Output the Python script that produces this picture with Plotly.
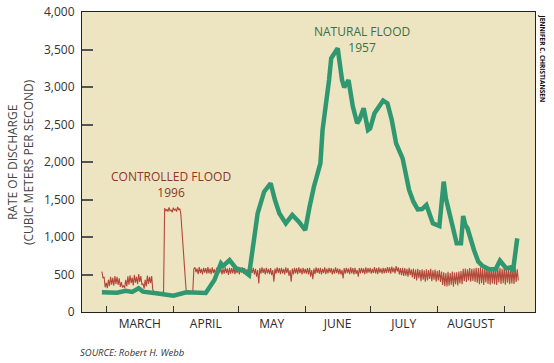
import pandas as pd
import plotly.graph_objects as go

# ---------------- data ----------------
# Natural flood 1957: days after March 1 and discharge (m^3/s)
natural_day = [-2, 5, 9, 12, 15, 17, 23, 31, 37, 46, 50, 53, 54, 57, 60, 63, 66, 68, 70, 73,
               76, 78, 80, 83, 86, 89, 92, 94, 96, 99, 100, 103, 104, 107, 109, 110, 112, 114,
               116, 117, 119, 121, 122, 124, 128, 130, 132, 134, 137, 140, 142, 144, 146, 148,
               150, 151, 154, 155, 156, 157, 159, 160, 162, 164, 165, 166, 167, 170, 172, 174,
               177, 180, 182, 184, 185, 187, 188, 190]
natural_flow = [263, 257, 284, 267, 316, 271, 249, 218, 263, 255, 427, 649, 613, 693, 582, 560,
                493, 871, 1316, 1604, 1716, 1493, 1316, 1182, 1293, 1204, 1093, 1404, 1671, 1982,
                2427, 3093, 3382, 3516, 3093, 2996, 3093, 2738, 2516, 2560, 2716, 2427, 2449,
                2649, 2818, 2782, 2560, 2249, 2049, 1627, 1471, 1369, 1373, 1427, 1271, 1182,
                1147, 1404, 1738, 1516, 1293, 1138, 916, 916, 1280, 1160, 1116, 827, 671, 613,
                569, 569, 684, 613, 582, 596, 538, 982]

# Controlled flood 1996: daily high / low discharge starting Feb 27
ctrl_start = "2001-02-27"
ctrl_high = [538, 470, 390, 430, 470, 455, 480, 470, 450, 400,
             355, 430, 475, 490, 460, 495, 470, 505, 480, 380,
             430, 485, 470, 480, 268, 262, 266, 263, 265, 1385,
             1370, 1395, 1360, 1390, 1375, 1400, 1380, 1050, 650, 268,
             266, 270, 264, 595, 580, 600, 575, 590, 585, 598,
             580, 595, 570, 590, 600, 585, 575, 595, 580, 590,
             585, 600, 575, 590, 580, 595, 585, 570, 590, 585,
             590, 575, 560, 585, 595, 580, 590, 575, 585, 560,
             580, 595, 585, 590, 575, 595, 585, 560, 580, 590,
             585, 595, 580, 590, 575, 585, 590, 560, 580, 595,
             585, 590, 575, 595, 580, 590, 585, 575, 595, 580,
             575, 560, 585, 590, 580, 595, 585, 590, 560, 585,
             590, 580, 595, 585, 590, 575, 600, 585, 595, 580,
             590, 585, 600, 595, 605, 590, 613, 595, 585, 590,
             585, 575, 590, 570, 580, 565, 575, 560, 570, 555,
             570, 560, 575, 555, 565, 550, 560, 540, 530, 520,
             535, 520, 540, 525, 530, 540, 545, 575, 580, 570,
             585, 575, 580, 590, 585, 595, 580, 590, 585, 595,
             590, 580, 595, 585, 590, 575, 595, 585, 580, 590,
             585, 595, 570]
ctrl_low = [450, 330, 318, 345, 365, 350, 375, 360, 335, 325,
            318, 340, 365, 385, 355, 390, 370, 400, 360, 312,
            340, 375, 385, 300, 260, 256, 258, 257, 260, 1345,
            1340, 1350, 1330, 1355, 1340, 1360, 1300, 850, 460, 262,
            258, 262, 575, 530, 505, 520, 500, 525, 510, 515,
            505, 520, 495, 515, 525, 500, 510, 520, 495, 510,
            515, 505, 520, 500, 525, 510, 495, 515, 505, 520,
            500, 470, 382, 510, 520, 500, 515, 505, 490, 404,
            510, 520, 505, 515, 500, 520, 480, 404, 500, 515,
            505, 520, 500, 515, 510, 500, 470, 436, 505, 520,
            510, 500, 520, 505, 515, 525, 500, 510, 520, 505,
            500, 449, 510, 520, 505, 515, 500, 510, 471, 515,
            520, 505, 515, 525, 510, 520, 515, 505, 525, 510,
            515, 520, 525, 510, 530, 515, 540, 500, 490, 480,
            485, 470, 490, 460, 440, 420, 450, 410, 430, 404,
            420, 440, 410, 430, 404, 420, 400, 360, 345, 340,
            350, 365, 338, 370, 355, 380, 372, 410, 400, 420,
            405, 415, 400, 390, 370, 385, 360, 395, 375, 365,
            380, 370, 360, 395, 375, 385, 365, 390, 370, 380,
            375, 400, 420]

months = ["MARCH", "APRIL", "MAY", "JUNE", "JULY", "AUGUST"]
y_ticks = [0, 500, 1000, 1500, 2000, 2500, 3000, 3500, 4000]

# ---------------- build ----------------
base = pd.Timestamp("2001-03-01")
natural_x = base + pd.to_timedelta(natural_day, unit="D")

c0 = pd.Timestamp(ctrl_start)
ctrl_x, ctrl_y = [], []
for i, (h, l) in enumerate(zip(ctrl_high, ctrl_low)):
    t = c0 + pd.Timedelta(days=i)
    ctrl_x += [t, t + pd.Timedelta(hours=12)]
    ctrl_y += [h, l]

starts = pd.date_range("2001-03-01", periods=len(months) + 1, freq="MS")
mids = [starts[i] + (starts[i + 1] - starts[i]) / 2 for i in range(len(months))]

FONT = "Open Sans, sans-serif"

fig = go.Figure()
fig.add_trace(go.Scatter(x=ctrl_x, y=ctrl_y, mode="lines",
                         line=dict(color="#B3473A", width=1.1), hoverinfo="skip"))
fig.add_trace(go.Scatter(x=natural_x, y=natural_flow, mode="lines",
                         line=dict(color="#2F9870", width=4.5), hoverinfo="skip"))

fig.update_layout(
    width=554, height=363,
    margin=dict(l=82, r=19, t=12, b=51, autoexpand=False),
    paper_bgcolor="white",
    plot_bgcolor="#EDE5C2",
    showlegend=False,
    font=dict(family=FONT, color="#333333", size=12),
    xaxis=dict(
        type="date", automargin=False,
        range=["2001-02-17 19:00", "2001-09-15 05:00"],
        tickmode="array", tickvals=mids, ticktext=months,
        ticks="", showgrid=False, zeroline=False,
        showline=True, linecolor="#222222", linewidth=1.2, mirror=True,
        tickfont=dict(family=FONT, size=12, color="#2A2A2A"),
        minor=dict(tickmode="array", tickvals=list(starts), ticks="inside",
                   ticklen=6, tickcolor="#333333", tickwidth=1, showgrid=False),
    ),
    yaxis=dict(
        range=[0, 4000], automargin=False,
        tickmode="array", tickvals=y_ticks, tickformat=",",
        ticks="inside", ticklen=11, tickwidth=1.5, tickcolor="#555555",
        showgrid=False, zeroline=False,
        showline=True, linecolor="#222222", linewidth=1.2, mirror=True,
        tickfont=dict(family=FONT, size=12, color="#333333"),
        ticklabelstandoff=4, ticklabeloverflow="allow",
    ),
)

fig.add_annotation(x=0, xref="paper", xanchor="center", xshift=-62, y=0.5, yref="paper",
                   yanchor="middle", textangle=-90, showarrow=False,
                   text="RATE OF DISCHARGE<br>(CUBIC METERS PER SECOND)",
                   font=dict(family=FONT, size=12, color="#444444"))
fig.add_annotation(x="2001-06-27 05:00", y=3633, xref="x", yref="y",
                   text="NATURAL FLOOD<br>1957", showarrow=False, yanchor="middle",
                   font=dict(family=FONT, size=12, color="#3A7048"))
fig.add_annotation(x="2001-03-30 22:00", y=1703, xref="x", yref="y",
                   text="CONTROLLED FLOOD<br>1996", showarrow=False, yanchor="middle",
                   font=dict(family=FONT, size=12, color="#8A3829"))
fig.add_annotation(x=0, xref="paper", xanchor="left", y=0, yref="paper", yanchor="top",
                   yshift=-32, xshift=-4, text="<i>SOURCE: Robert H. Webb</i>", showarrow=False,
                   font=dict(family=FONT, size=9.5, color="#333333"))
fig.add_annotation(x=1, xref="paper", xanchor="left", xshift=1, y=1, yref="paper",
                   yanchor="top", text="<b>JENNIFER C. CHRISTIANSEN</b>", textangle=90,
                   showarrow=False, font=dict(family=FONT, size=6.5, color="#111111"))

fig.write_html("out.html", config={"displayModeBar": False},
               post_script="document.body.style.margin='0';")
